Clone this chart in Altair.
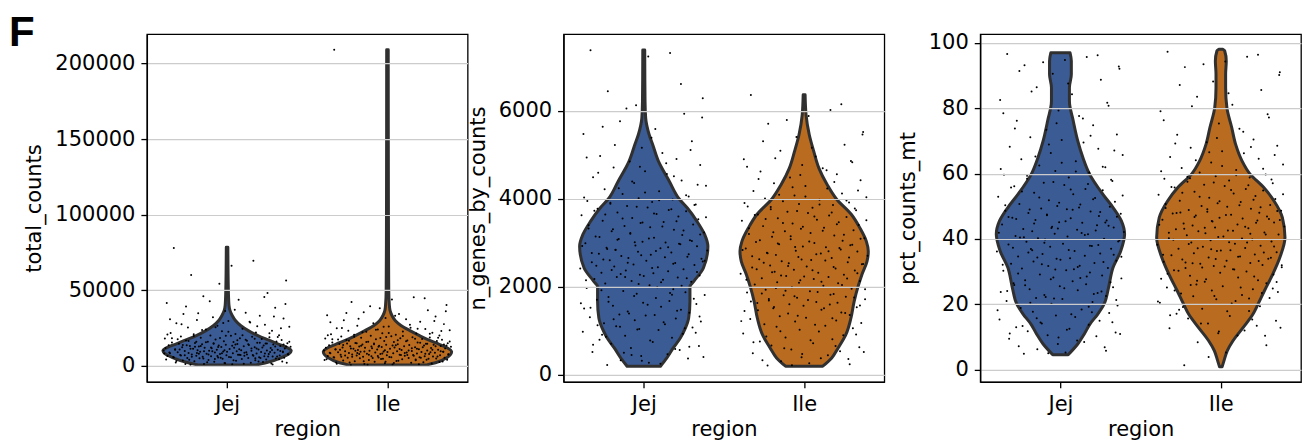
import altair as alt
import pandas as pd

REGIONS = ["Jej", "Ile"]
BLUE = "#3b5b94"
ORANGE = "#b96b1f"

# ---- violin outlines: value, relative half-width ----
TC_JEJ_Y = [600, 2200, 5500, 7800, 10000, 12200, 14400, 17300, 20000, 23300, 26700, 30000, 33300, 36700, 40000, 50000, 78400]
TC_JEJ_W = [0.45, 0.62, 0.85, 0.96, 1.0, 0.93, 0.8, 0.63, 0.48, 0.33, 0.21, 0.13, 0.08, 0.045, 0.03, 0.02, 0.012]
TC_ILE_Y = [500, 2200, 5500, 9300, 12000, 14400, 17300, 20000, 23300, 26700, 30000, 33300, 36700, 40000, 50000, 100000, 209000]
TC_ILE_W = [0.6, 0.76, 0.93, 1.0, 0.93, 0.8, 0.63, 0.5, 0.35, 0.21, 0.12, 0.07, 0.04, 0.03, 0.02, 0.015, 0.012]

NG_JEJ_Y = [190, 379, 606, 833, 1061, 1288, 1667, 2000, 2121, 2424, 2917, 3182, 3485, 3788, 4000, 4394, 4848, 5227, 5455, 5833, 6212, 7386]
NG_JEJ_W = [0.26, 0.36, 0.46, 0.57, 0.65, 0.7, 0.72, 0.72, 0.78, 0.93, 1.0, 0.95, 0.83, 0.68, 0.55, 0.4, 0.23, 0.14, 0.085, 0.03, 0.02, 0.015]
NG_ILE_Y = [190, 379, 606, 909, 1288, 1667, 2000, 2273, 2576, 2803, 3030, 3333, 3636, 4000, 4318, 4697, 5076, 5455, 5909, 6364]
NG_ILE_W = [0.29, 0.43, 0.53, 0.65, 0.73, 0.78, 0.84, 0.9, 0.98, 1.0, 0.97, 0.87, 0.74, 0.5, 0.36, 0.23, 0.15, 0.08, 0.03, 0.015]

PM_JEJ_Y = [4.5, 7.8, 10.8, 13.9, 16.9, 20.0, 25.1, 31.2, 36.3, 41.4, 45.5, 49.6, 53.7, 60.0, 64.9, 70.0, 76.1, 82.2, 86.3, 90.4, 94.5, 97.0]
PM_JEJ_W = [0.12, 0.27, 0.37, 0.46, 0.58, 0.68, 0.75, 0.82, 0.94, 1.0, 0.95, 0.82, 0.66, 0.45, 0.35, 0.27, 0.2, 0.14, 0.14, 0.17, 0.17, 0.15]
PM_ILE_Y = [0.8, 2.7, 5.7, 8.8, 12.9, 16.9, 20.0, 24.1, 29.2, 34.3, 40.4, 46.5, 51.6, 55.7, 60.0, 63.9, 69.0, 74.1, 80.2, 86.3, 90.4, 94.5, 97.6, 98.1]
PM_ILE_W = [0.02, 0.05, 0.1, 0.19, 0.35, 0.5, 0.58, 0.68, 0.81, 0.92, 1.0, 0.96, 0.83, 0.67, 0.45, 0.33, 0.23, 0.17, 0.095, 0.075, 0.075, 0.085, 0.06, 0.03]

# ---- cells (strip points): horizontal jitter (percent of half-width) and values ----
JITTER = [
    -83, 41, 7, -56, 92, -12, 63, -37, 18, -94,
    75, -3, 29, -68, 51, -22, 88, -47, 2, 36,
    -79, 59, -15, 97, -61, 24, -33, 70, -8, 45,
    -88, 13, -52, 81, -26, 6, -72, 39, 66, -41,
    20, -97, 54, -18, 85, -64, 31, -5, 77, -30,
    10, -86, 47, -50, 94, -21, 60, -75, 16, -39,
    72, -2, 34, -91, 57, -13, 83, -58, 26, -44,
    99, -9, 43, -70, 11, -35, 68, -24, 90, -53,
    4, -81, 49, -16, 79, -46, 22, -99, 62, -28,
    38, -66, 15, -6, 87, -42, 53, -77, 30, -19,
    74, -60, 9, -89, 46, -32, 65, -11, 95, -55,
    19, -73, 40, -1, 82, -48, 27, -93, 58, -25,
    71, -38, 3, -84, 50, -14, 89, -62, 33, -43,
    76, -7, 23, -95, 61, -29, 44, -69, 14, -51,
    86, -20, 56, -80, 37, -4, 69, -36, 8, -57,
]
JITTER_B = [
    58, -27, 91, -64, 12, -45, 73, -89, 35, -6,
    -71, 47, -18, 84, -39, 2, 66, -93, 24, -52,
    79, -11, 43, -77, 16, -60, 97, -33, 51, -2,
    -86, 29, -48, 62, -21, 88, -69, 8, -41, 75,
    -14, 55, -96, 38, -57, 19, -81, 70, -4, 33,
    -63, 92, -25, 46, -74, 13, -50, 83, -36, 0,
    67, -90, 27, -8, 59, -44, 95, -29, 21, -66,
    41, -15, 78, -55, 6, -83, 52, -23, 87, -47,
    31, -72, 64, -10, 44, -98, 17, -37, 81, -59,
    10, -79, 49, -31, 93, -3, 26, -65, 71, -19,
]

TC_JEJ = [78000, 69500, 66200, 60100, 56400, 54300, 48200, 46100, 43800, 41600,
          38400, 36200, 35100, 34300, 33200, 32100, 31300, 30400,
          29600, 28700, 28100, 27200, 26600, 25900, 25300, 24500, 24100, 23200, 22900, 22100, 21800, 21100, 20900, 20300, 20050,
          19850, 19420, 19230, 18870, 18640, 18210, 18030, 17690, 17380, 17150, 16790, 16620, 16280, 16140, 15870, 15730, 15460, 15320, 15110, 15020,
          14920, 14710, 14630, 14420, 14290, 14180, 13960, 13870, 13690, 13520, 13430, 13210, 13140, 12930, 12820, 12610, 12540, 12330, 12260, 12010,
          11920, 11730, 11640, 11410, 11330, 11120, 11040, 10830, 10710, 10580, 10390, 10320, 10170, 10090, 10010,
          9930, 9760, 9680, 9510, 9420, 9270, 9180, 9010, 8920, 8790, 8630, 8550, 8380, 8290, 8140, 8060, 7870, 7790, 7640, 7510,
          7420, 7260, 7170, 7020, 6930, 6760, 6680, 6510, 6420, 6270, 6130, 6050, 5880, 5790, 5630, 5560, 5390, 5270, 5160, 5040,
          4920, 4680, 4530, 4270, 4120, 3880, 3710, 3460, 3320, 3080, 2920, 2690, 2510, 2280, 2130, 1870, 1620, 1280, 1030, 720]
TC_JEJ_B = [45500, 42800, 40900, 39200, 37100, 34800, 32600, 30900,
            29200, 28400, 27500, 26200, 25600, 24800, 23700, 22500, 21500, 20700, 20200,
            19670, 19110, 18420, 17920, 17540, 16950, 16470, 16010, 15620, 15240, 19960, 18330, 17270, 15880,
            14840, 14560, 14050, 13770, 13350, 13060, 12720, 12440, 12150, 11870, 11560, 11240, 10950, 10660, 10470, 10240,
            14370, 13620, 12880, 12070, 11480, 10760, 14110, 12590,
            9840, 9590, 9330, 9090, 8850, 8610, 8340, 8110, 7950, 7710, 7470, 7220, 6990, 6720, 6480, 6230, 5970, 5720, 5470, 5210,
            9710, 9060, 8470, 7580, 6840, 6110, 5340, 5090, 8220, 7330,
            4810, 4390, 4020, 3640, 3190, 2850, 2460, 2070, 1760, 1420, 1150, 890, 4610, 3540, 2380]
TC_ILE = [209000, 45300, 43900, 42200, 40300, 38100, 36700, 35400,
          34300, 33400, 32700, 31700, 30800, 30100, 29200, 28200, 27600, 26600, 26100, 25200,
          24900, 24300, 24100, 23500, 23300, 22700, 22500, 21900, 21600, 21400, 20900, 20600, 20500, 20150,
          19870, 19520, 19380, 18990, 18760, 18530, 18240, 18110, 17760, 17580, 17230, 17090, 16740, 16520, 16380, 16020, 15840, 15510, 15380, 15090,
          14950, 14760, 14560, 14480, 14280, 14190, 13980, 13910, 13720, 13580, 13460, 13290, 13170, 13020, 12940, 12730, 12660, 12470, 12380, 12180,
          12090, 11910, 11820, 11630, 11560, 11340, 11270, 11060, 10970, 10790, 10690, 10510, 10420, 10230, 10140, 10030,
          9890, 9740, 9660, 9490, 9380, 9250, 9140, 9030, 8910, 8770, 8690, 8520, 8410, 8310, 8170, 8040, 7910, 7760, 7680, 7540,
          7390, 7310, 7190, 7040, 6960, 6810, 6660, 6570, 6390, 6320, 6180, 6010, 5920, 5770, 5690, 5520, 5430, 5290, 5140, 5060,
          4870, 4710, 4440, 4310, 4060, 3910, 3640, 3520, 3260, 3110, 2840, 2660, 2430, 2250, 1980, 1710, 1490, 1170, 880, 560]
TC_ILE_B = [44700, 39500, 36100, 34900, 33100, 31200, 29600, 28800, 27200, 25800, 25000,
            24600, 23900, 23100, 22300, 21800, 21200, 20300,
            19710, 19230, 18670, 18380, 17910, 17420, 16870, 16610, 16150, 15720, 15240, 19040, 17640, 16290,
            14870, 14620, 14350, 14090, 13820, 13530, 13240, 12990, 12580, 12290, 12010, 11720, 11440, 11180, 10890, 10580, 10330, 10080,
            14710, 13390, 12840, 11290, 10720, 13660,
            9950, 9680, 9430, 9180, 8960, 8730, 8470, 8240, 7990, 7830, 7570, 7340, 7110, 6880, 6620, 6470, 6230, 5980, 5740, 5580,
            5360, 5130, 9310, 8580, 7220, 6040,
            4760, 4520, 4170, 3820, 3380, 2970, 2560, 2170, 1820, 1380, 1060, 740, 3990, 2710]

NG_JEJ = [7380, 7315, 7236, 6447, 6286, 6128,
          5934, 5762, 5588, 5473, 5306, 5158, 5041,
          4972, 4905, 4846, 4768, 4712, 4627, 4563, 4488, 4414, 4357, 4293, 4218, 4172, 4106, 4053, 4012,
          3984, 3951, 3923, 3887, 3868, 3832, 3801, 3774, 3741, 3713, 3686, 3654, 3622, 3594, 3561, 3534, 3502, 3473, 3446, 3412,
          3381, 3354, 3322, 3293, 3261, 3234, 3202, 3174, 3141, 3113, 3082, 3054, 3021, 3006,
          2987, 2962, 2938, 2917, 2886, 2873, 2842, 2824, 2793, 2778, 2746, 2728, 2697, 2683, 2651, 2634, 2602, 2588, 2557, 2539,
          2506, 2493, 2461, 2444, 2412, 2398, 2366, 2349, 2317, 2304, 2271, 2253, 2222, 2208, 2176, 2159, 2127, 2113, 2074, 2033,
          1968, 1943, 1902, 1874, 1836, 1809, 1767, 1744, 1702, 1673, 1636, 1608, 1566, 1544, 1501, 1473, 1437, 1409, 1366, 1344,
          1302, 1274, 1236, 1209, 1166, 1144, 1101, 1073, 1038, 1012,
          976, 928, 883, 837, 792, 743, 702, 648, 607, 558, 513, 462, 424, 367, 328, 271, 218]
NG_JEJ_B = [6610, 6050, 5850, 5640, 5390, 5220, 5110,
            4940, 4810, 4730, 4590, 4510, 4390, 4320, 4240, 4140, 4080, 4030,
            3968, 3911, 3856, 3817, 3759, 3728, 3667, 3639, 3577, 3548, 3489, 3457, 3396, 3368, 3307, 3279, 3218, 3189, 3127, 3097,
            3068, 3037, 3013,
            2974, 2926, 2897, 2858, 2811, 2764, 2737, 2712, 2667, 2618, 2571, 2546, 2521, 2476, 2427, 2381, 2336, 2288, 2241, 2193,
            2147, 2098, 2062, 2018, 2835, 2592, 2219,
            1988, 1921, 1858, 1788, 1723, 1658, 1587, 1523, 1452, 1389, 1321, 1256, 1188, 1122, 1056, 1024, 1815, 1621, 1355, 1087,
            954, 861, 774, 679, 583, 496, 401, 312, 247, 905, 633, 445]
NG_ILE = [6358, 6021,
          5884, 5703, 5517, 5402, 5228, 5093,
          4963, 4897, 4832, 4768, 4694, 4617, 4558, 4483, 4421, 4352, 4288, 4233, 4176, 4119, 4072, 4031, 4004,
          3976, 3943, 3917, 3882, 3857, 3823, 3796, 3762, 3738, 3703, 3677, 3642, 3618, 3583, 3557, 3522, 3497, 3463, 3438, 3402,
          3377, 3342, 3318, 3283, 3258, 3222, 3197, 3162, 3138, 3103, 3078, 3042, 3017,
          2992, 2963, 2941, 2916, 2894, 2868, 2847, 2818, 2798, 2771, 2752, 2723, 2702, 2674, 2653, 2626, 2606, 2578, 2557, 2531,
          2509, 2482, 2461, 2434, 2413, 2386, 2365, 2338, 2317, 2291, 2269, 2242, 2221, 2194, 2173, 2147, 2126, 2098, 2077, 2051, 2018,
          1987, 1953, 1927, 1893, 1867, 1833, 1807, 1773, 1747, 1713, 1687, 1653, 1627, 1593, 1567, 1533, 1507, 1473, 1447, 1413,
          1387, 1353, 1327, 1293, 1267, 1233, 1207, 1173, 1147, 1113, 1087, 1053, 1022,
          981, 933, 892, 843, 802, 753, 712, 663, 622, 573, 532, 483, 442, 393, 352, 303, 257, 204]
NG_ILE_B = [6150, 5790, 5460, 5310, 5160,
            4920, 4860, 4730, 4650, 4540, 4450, 4380, 4260, 4190, 4090, 4050,
            3961, 3902, 3871, 3812, 3779, 3721, 3688, 3631, 3598, 3541, 3508, 3449, 3418, 3361, 3329, 3271, 3236, 3181, 3149, 3091,
            3058, 3026,
            2979, 2952, 2903, 2881, 2832, 2808, 2761, 2738, 2689, 2664, 2617, 2594, 2543, 2518, 2472, 2447, 2398, 2376, 2327, 2303,
            2254, 2231, 2184, 2159, 2111, 2088, 2036,
            1969, 1941, 1908, 1879, 1846, 1818, 1784, 1756, 1722, 1694, 1661, 1634, 1601, 1572, 1539, 1511, 1461, 1398, 1338, 1279,
            1216, 1131,
            987, 914, 867, 781, 734, 648, 597, 512, 468, 373, 324, 236, 212]

PM_JEJ = [96.6, 95.7, 94.8, 93.2, 92.1, 90.6,
          88.7, 86.4, 84.3, 82.5, 80.8,
          79.3, 77.6, 76.2, 74.8, 73.4, 72.0, 71.1, 70.3,
          69.5, 68.2, 67.6, 66.3, 65.7, 64.4, 63.8, 62.5, 61.9, 60.8, 60.3,
          59.6, 58.8, 58.4, 57.7, 57.2, 56.5, 56.1, 55.3, 54.9, 54.1, 53.7, 52.9, 52.5, 51.8, 51.4, 50.7, 50.5, 50.1,
          49.8, 49.3, 49.1, 48.6, 48.4, 47.9, 47.7, 47.2, 47.0, 46.5, 46.3, 45.8, 45.6, 45.1, 44.9, 44.4, 44.2, 43.7, 43.5, 43.0,
          42.8, 42.3, 42.1, 41.6, 41.4, 40.9, 40.7, 40.2, 40.05,
          39.8, 39.2, 39.1, 38.5, 38.3, 37.8, 37.6, 37.0, 36.9, 36.3, 36.1, 35.5, 35.4, 34.8, 34.6, 34.1, 33.9, 33.3, 33.1, 32.6,
          32.4, 31.8, 31.7, 31.1, 30.9, 30.4, 30.2,
          29.7, 29.1, 28.8, 28.2, 27.9, 27.3, 27.0, 26.4, 26.1, 25.5, 25.2, 24.6, 24.3, 23.7, 23.4, 22.8, 22.5, 21.9, 21.6, 21.0,
          20.7, 20.1,
          19.6, 18.8, 18.4, 17.7, 17.3, 16.5, 16.1, 15.3, 14.9, 14.1, 13.7, 12.9, 12.5, 11.7, 11.3, 10.5, 10.2,
          9.4, 8.4, 7.8, 6.8, 6.2, 5.2, 4.8]
PM_JEJ_B = [96.2, 94.1, 92.8, 91.4, 87.6, 85.1, 81.7,
            78.5, 76.9, 75.4, 73.8, 71.6,
            68.9, 67.1, 65.2, 63.3, 62.1, 61.4, 60.6,
            59.3, 58.1, 57.4, 56.8, 55.7, 55.1, 54.5, 53.3, 52.7, 52.1, 51.1, 50.3,
            49.6, 49.0, 48.2, 47.5, 46.8, 46.1, 45.4, 44.7, 44.0, 43.3, 42.6, 41.9, 41.2, 40.5, 48.9, 46.7, 45.0, 43.2, 41.8, 40.4,
            39.5, 38.8, 37.9, 37.3, 36.6, 35.8, 35.1, 34.3, 33.6, 32.9, 32.1, 31.4, 30.6, 38.1, 36.5, 34.5, 32.2, 30.7,
            29.4, 28.5, 27.6, 26.7, 25.8, 24.9, 24.0, 23.1, 22.2, 21.3, 20.4, 28.0, 25.9, 23.9, 21.7,
            19.2, 18.1, 16.9, 15.7, 14.5, 13.3, 12.2, 11.0, 17.5, 14.4, 10.9,
            9.8, 8.9, 7.1, 5.7, 5.0]
PM_ILE = [97.3, 95.8, 94.3, 92.6, 91.0,
          88.2, 85.6, 83.5, 81.1,
          79.1, 77.2, 75.3, 73.7, 71.9, 70.4,
          69.6, 68.5, 67.9, 66.8, 66.2, 65.1, 64.5, 63.4, 62.8, 61.7, 61.1, 60.3,
          59.7, 59.2, 58.8, 58.4, 57.9, 57.5, 57.0, 56.6, 56.2, 55.7, 55.3, 54.8, 54.4, 53.9, 53.5, 53.1, 52.6, 52.2, 51.7, 51.3,
          50.9, 50.4, 50.1,
          49.85, 49.46, 49.23, 48.87, 48.62, 48.31, 47.98, 47.74, 47.38, 47.12, 46.83, 46.47, 46.24, 45.88, 45.63, 45.29,
          45.04, 44.68, 44.43, 44.07, 43.82, 43.49, 43.24, 42.91, 42.57, 42.33, 41.96, 41.72, 41.37, 41.08, 40.71, 40.18,
          39.84, 39.57, 39.16, 38.88, 38.51, 38.23, 37.86, 37.59, 37.21, 36.94, 36.55, 36.27, 35.91, 35.63, 35.24, 34.97,
          34.58, 34.31, 33.93, 33.66, 33.27, 33.01, 32.62, 32.35, 31.97, 31.71, 31.32, 31.05, 30.68, 30.39, 30.04,
          29.6, 29.1, 28.7, 28.2, 27.8, 27.3, 26.9, 26.4, 26.0, 25.5, 25.1, 24.6, 24.2, 23.7, 23.3, 22.8, 22.4, 21.9, 21.5, 21.0,
          20.4,
          19.4, 18.6, 17.9, 17.1, 16.4, 15.6, 14.9, 14.1, 13.4, 12.6, 11.9, 11.1, 10.3,
          8.3, 5.2, 1.3]
PM_ILE_B = [96.4, 93.5, 90.2, 87.1, 84.6, 80.6,
            78.2, 76.3, 72.8, 70.9,
            69.2, 68.1, 66.5, 65.7, 64.1, 62.3, 61.5, 60.7,
            59.5, 59.0, 58.2, 57.3, 56.4, 55.9, 55.0, 54.1, 53.7, 52.9, 52.0, 51.5, 50.7, 50.3, 58.6,
            49.7, 49.1, 48.5, 47.9, 47.3, 46.7, 46.1, 45.5, 44.9, 44.3, 43.7, 43.1, 42.5, 41.9, 41.3, 40.6, 40.1,
            48.1, 45.8, 43.4, 41.6,
            39.7, 39.0, 38.4, 37.7, 37.1, 36.4, 35.8, 35.1, 34.5, 33.8, 33.2, 32.5, 31.9, 31.2, 30.6, 30.2,
            38.9, 36.8, 34.2, 32.8, 31.5,
            29.3, 28.5, 27.6, 26.8, 25.9, 25.1, 24.2, 23.4, 22.5, 21.7, 20.8, 20.2, 27.2, 24.8,
            19.1, 17.8, 16.6, 15.3, 14.1, 12.8, 11.6, 10.4, 18.3,
            7.4, 3.8]

PANELS = [
    ("total_counts", [-10600, 219400], [0, 50000, 100000, 150000, 200000],
     (TC_JEJ_Y, TC_JEJ_W, TC_ILE_Y, TC_ILE_W), ((TC_JEJ, TC_JEJ_B), (TC_ILE, TC_ILE_B))),
    ("n_genes_by_counts", [-166, 7744], [0, 2000, 4000, 6000],
     (NG_JEJ_Y, NG_JEJ_W, NG_ILE_Y, NG_ILE_W), ((NG_JEJ, NG_JEJ_B), (NG_ILE, NG_ILE_B))),
    ("pct_counts_mt", [-3.8, 102.7], [0, 20, 40, 60, 80, 100],
     (PM_JEJ_Y, PM_JEJ_W, PM_ILE_Y, PM_ILE_W), ((PM_JEJ, PM_JEJ_B), (PM_ILE, PM_ILE_B))),
]

REGION_POS = "indexof(['Jej', 'Ile'], datum.region)"


def cell_rows(region, lists):
    rows = []
    for vals, jit in zip(lists, (JITTER, JITTER_B)):
        rows += [{"region": region, "value": v, "jit": j} for v, j in zip(vals, jit)]
    return rows


def make_panel(title, domain, ticks, outline, cells, first):
    jy, jw, iy, iw = outline
    vdf = pd.DataFrame(
        [{"region": "Jej", "value": y, "w": w} for y, w in zip(jy, jw)]
        + [{"region": "Ile", "value": y, "w": w} for y, w in zip(iy, iw)]
    )
    pdf = pd.DataFrame(cell_rows("Jej", cells[0]) + cell_rows("Ile", cells[1]))
    yscale = alt.Scale(domain=domain, nice=False, zero=False)
    xscale = alt.Scale(domain=[-0.5, 1.5], nice=False, zero=False)
    yaxis = alt.Axis(values=ticks, format="d", grid=True, zindex=1, title=title)
    xaxis = alt.Axis(values=[0, 1], labelExpr="datum.value == 0 ? 'Jej' : 'Ile'",
                     grid=False, title="region")
    color = alt.Color("region:N", scale=alt.Scale(domain=REGIONS, range=[BLUE, ORANGE]), legend=None)

    violins = (
        alt.Chart(vdf)
        .transform_calculate(pos=REGION_POS)
        .transform_calculate(lo="datum.pos - 0.4 * datum.w", hi="datum.pos + 0.4 * datum.w")
        .mark_area(orient="horizontal", interpolate="monotone", stroke="#303030",
                   strokeWidth=3, fillOpacity=1, strokeJoin="round")
        .encode(
            y=alt.Y("value:Q", scale=yscale, axis=yaxis),
            x=alt.X("lo:Q", scale=xscale, axis=xaxis),
            x2="hi:Q",
            color=color,
        )
    )
    points = (
        alt.Chart(pdf)
        .transform_calculate(pos=REGION_POS)
        .transform_calculate(xj="datum.pos + 0.4 * datum.jit / 100")
        .mark_circle(size=4, color="black", opacity=1)
        .encode(
            x=alt.X("xj:Q", scale=xscale, axis=xaxis),
            y=alt.Y("value:Q", scale=yscale, axis=yaxis),
        )
    )
    layers = [violins, points]
    if first:
        letter = (
            alt.Chart(pd.DataFrame({"label": ["F"]}))
            .mark_text(align="left", baseline="alphabetic", fontSize=42, fontWeight="bold",
                       font="Liberation Sans", color="black")
            .encode(text="label:N", x=alt.value(-138), y=alt.value(12))
        )
        layers.append(letter)
    return alt.layer(*layers).properties(width=321, height=348)


charts = [make_panel(t, d, tk, o, c, i == 0) for i, (t, d, tk, o, c) in enumerate(PANELS)]

chart = (
    alt.hconcat(*charts, spacing=96, bounds="flush")
    .properties(padding={"left": 0, "top": 3, "right": 0, "bottom": 0})
    .configure_view(stroke="black", strokeWidth=1.3)
    .configure_axis(
        labelFont="DejaVu Sans", labelFontSize=21, labelColor="black",
        titleFont="DejaVu Sans", titleFontSize=21, titleFontWeight="normal", titleColor="black",
        tickColor="black", tickSize=6, tickWidth=1.3, domainColor="black", domainWidth=1.3,
        labelPadding=6, gridColor="#cccccc", gridWidth=1.2,
    )
    .configure_axisY(titlePadding=10)
    .configure_axisX(titlePadding=4)
)

chart.save("out.html", embed_options={"renderer": "svg", "actions": False})
